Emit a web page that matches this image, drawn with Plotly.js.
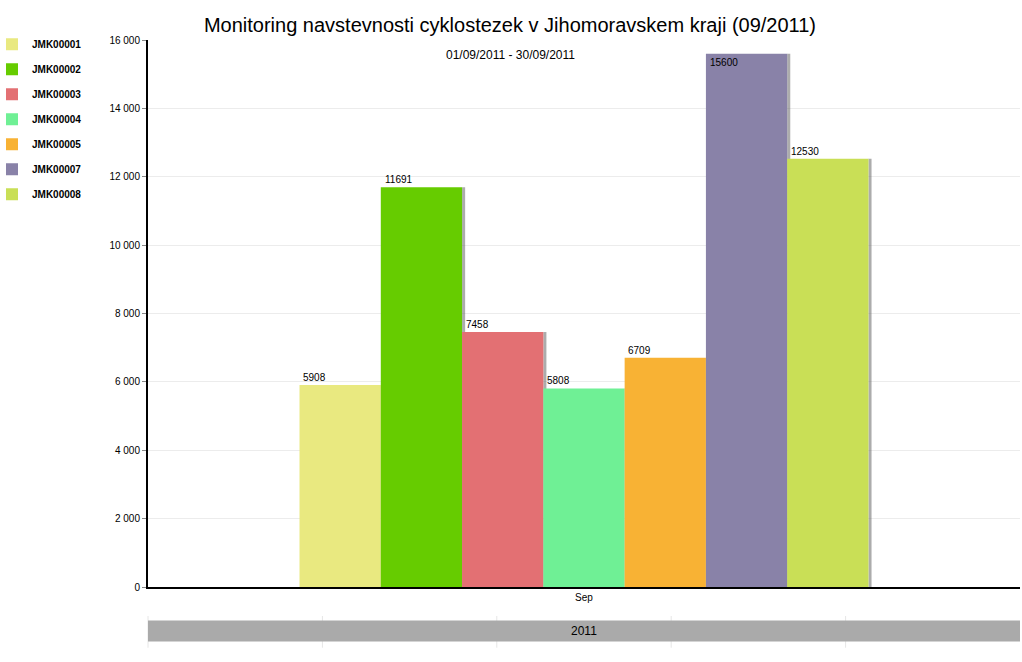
<!DOCTYPE html>
<html>
<head>
<meta charset="utf-8">
<script src="https://cdn.plot.ly/plotly-3.0.1.min.js"></script>
<style>
  body { margin: 0; background: #fff; }
  #myDiv { width: 1022px; height: 662px; }
</style>
</head>
<body>
<div id="myDiv"></div>
<script>
// data
var month = ['Sep'];
var stations = ['JMK00001', 'JMK00002', 'JMK00003', 'JMK00004', 'JMK00005', 'JMK00007', 'JMK00008'];
var visits = [5908, 11691, 7458, 5808, 6709, 15600, 12530];
var colors = ['#e9e980', '#66cc00', '#e37073', '#6ff095', '#f8b234', '#8982a8', '#c9df56'];
var yTicks = [0, 2000, 4000, 6000, 8000, 10000, 12000, 14000, 16000];

var groupWidth = 0.6525;
var barW = groupWidth / stations.length;
var shadowW = 0.0035;

var data = [];
var annotations = [];

// shadows first so the bars sit on top
stations.forEach(function (name, i) {
    var off = -groupWidth / 2 + i * barW;
    data.push({
        type: 'bar',
        x: month,
        y: [visits[i]],
        offset: off + barW,
        width: shadowW,
        marker: { color: 'rgba(90, 90, 90, 0.5)', line: { width: 0 } },
        showlegend: false,
        hoverinfo: 'skip'
    });
});

stations.forEach(function (name, i) {
    var off = -groupWidth / 2 + i * barW;
    data.push({
        type: 'bar',
        name: name,
        legendgroup: name,
        x: month,
        y: [visits[i]],
        offset: off,
        width: barW,
        marker: { color: colors[i], line: { width: 0 } }
    });
    var inside = visits[i] > 15000;
    annotations.push({
        xref: 'x', yref: 'y',
        x: off + 0.002,
        y: visits[i],
        text: String(visits[i]),
        showarrow: false,
        xanchor: 'left',
        yanchor: inside ? 'top' : 'bottom',
        yshift: inside ? -1 : 0,
        font: { size: 10, color: '#000' }
    });
});

annotations.push({
    xref: 'paper', yref: 'paper',
    x: 0.416, y: 0.9726,
    text: '01/09/2011 - 30/09/2011',
    showarrow: false,
    xanchor: 'center', yanchor: 'middle',
    font: { size: 12, color: '#000' }
});
annotations.push({
    xref: 'paper', yref: 'paper',
    x: 0.5, y: -0.08,
    text: '2011',
    showarrow: false,
    xanchor: 'center', yanchor: 'middle',
    font: { size: 12, color: '#000' }
});

// year band under the axis (separators drawn first, band on top)
var shapes = [];
[0, 0.2, 0.4, 0.6, 0.8].forEach(function (p) {
    shapes.push({
        type: 'line', xref: 'paper', yref: 'paper',
        x0: p, x1: p, y0: -0.111, y1: -0.053,
        line: { color: '#e6e6e6', width: 1 }, layer: 'below'
    });
});
shapes.push({
    type: 'rect', xref: 'paper', yref: 'paper',
    x0: 0, x1: 1, y0: -0.0995, y1: -0.0612,
    fillcolor: '#aaaaaa', line: { width: 0 }, layer: 'below'
});

var layout = {
    width: 1022,
    height: 662,
    margin: { l: 148, r: 2, t: 40, b: 75 },
    barmode: 'overlay',
    separators: ', ',
    font: { family: 'Liberation Sans, Arial, sans-serif', size: 10, color: '#000' },
    title: {
        text: 'Monitoring navstevnosti cyklostezek v Jihomoravskem kraji (09/2011)',
        font: { size: 20, color: '#000' },
        x: 0.499, xanchor: 'center',
        y: 0.962, yanchor: 'middle'
    },
    xaxis: {
        type: 'category',
        range: [-0.5, 0.5],
        showgrid: false,
        showline: true,
        linecolor: '#000',
        linewidth: 2,
        ticks: '',
        tickfont: { size: 10 },
        fixedrange: true
    },
    yaxis: {
        range: [0, 16000],
        tickvals: yTicks,
        tickformat: ',d',
        separatethousands: true,
        showline: true,
        linecolor: '#000',
        linewidth: 2,
        ticks: 'outside',
        ticklen: 4,
        tickcolor: '#888',
        gridcolor: '#ececec',
        zeroline: false,
        tickfont: { size: 10 },
        fixedrange: true
    },
    legend: {
        xref: 'container', yref: 'container',
        x: 0, xanchor: 'left',
        y: 0.955, yanchor: 'top',
        font: { size: 10, weight: 'bold' },
        itemwidth: 30,
        indentation: -8,
        tracegroupgap: 6,
        bgcolor: 'rgba(0,0,0,0)'
    },
    annotations: annotations,
    shapes: shapes,
    plot_bgcolor: '#fff',
    paper_bgcolor: '#fff'
};

Plotly.newPlot('myDiv', data, layout, { displayModeBar: false, staticPlot: true });
</script>
</body>
</html>
